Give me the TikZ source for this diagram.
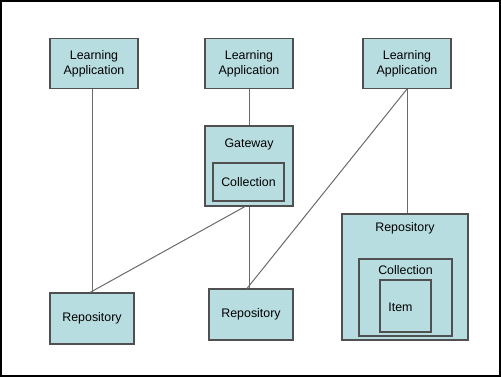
\documentclass[tikz,border=0pt]{standalone}
\usepackage{fontspec}
\setmainfont{Liberation Sans}
\begin{document}
\begin{tikzpicture}[x=0.75pt,y=-0.75pt,
  box/.style={draw=boxline,fill=boxfill,line width=0.8pt,rectangle,inner sep=0pt,
    align=center,font=\fontsize{9.3pt}{11.2pt}\selectfont},
  lbl/.style={inner sep=0pt,font=\fontsize{9.3pt}{11.2pt}\selectfont},
  link/.style={draw=linkgray,line width=0.75pt}]
\definecolor{boxfill}{HTML}{B8DDE0}
\definecolor{boxline}{HTML}{505050}
\definecolor{linkgray}{HTML}{6A6A6A}
\useasboundingbox (0,0) rectangle (501,377);
% frame
\draw[line width=1.9pt,black] (1.2,1.2) rectangle (499.8,375.8);

% learning applications
\node[box,minimum width=88*0.75pt,minimum height=50*0.75pt] (la1) at (94,63.5) {Learning\\Application};
\node[box,minimum width=88*0.75pt,minimum height=50*0.75pt] (la2) at (249,63.5) {Learning\\Application};
\node[box,minimum width=88*0.75pt,minimum height=50*0.75pt] (la3) at (407,63.5) {Learning\\Application};

% gateway with its collection
\node[box,minimum width=88*0.75pt,minimum height=80*0.75pt] (gw) at (249,166) {};
\node[lbl] (gwtext) at (249,144.5) {Gateway};
\node[box,minimum width=71*0.75pt,minimum height=38*0.75pt] (gcoll) at (248.5,182) {Collection};

% plain repositories
\node[box,minimum width=84*0.75pt,minimum height=51*0.75pt] (repo1) at (92,318.5) {Repository};
\node[box,minimum width=84*0.75pt,minimum height=51*0.75pt] (repo2) at (251,314.5) {Repository};

% repository holding a collection and an item
\node[box,minimum width=126*0.75pt,minimum height=126*0.75pt] (repo3) at (405,277) {};
\node[lbl] (repo3text) at (405,228.5) {Repository};
\node[box,minimum width=93*0.75pt,minimum height=77*0.75pt] (coll3) at (405.5,297.5) {};
\node[lbl] (coll3text) at (405.5,270.5) {Collection};
\node[box,minimum width=51*0.75pt,minimum height=52*0.75pt] (item) at (405.5,306) {};
\node[lbl] (itemtext) at (400.5,307) {Item};

% connectors
\draw[link] (repo1.north |- la1.south) -- (repo1.north);
\draw[link] (la2.south) -- (gw.north);
\draw[link] ([xshift=-3pt]gw.south) -- ([xshift=-1.5pt]repo1.north);
\draw[link] (gw.south) -- (gw.south |- repo2.north);
\draw[link] (la3.south) -- ([xshift=-3pt]repo2.north);
\draw[link] (la3.south) -- (la3.south |- repo3.north);
\end{tikzpicture}
\end{document}
